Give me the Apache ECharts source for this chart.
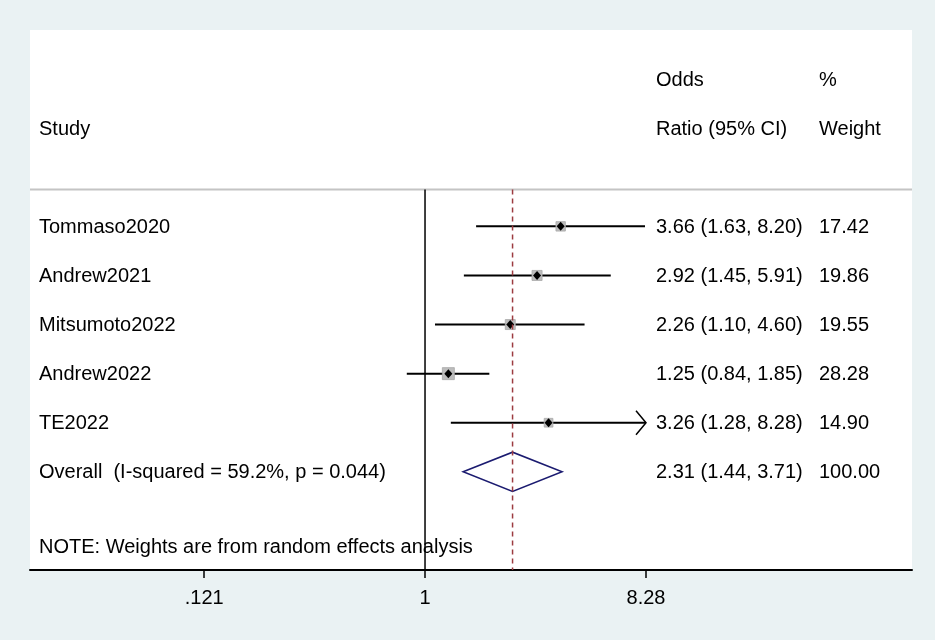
<!DOCTYPE html>
<html>
<head>
<meta charset="utf-8">
<script src="https://cdn.jsdelivr.net/npm/echarts@6/dist/echarts.min.js"></script>
<style>
html,body{margin:0;padding:0;background:#eaf2f3}
#chart{width:935px;height:640px}
</style>
</head>
<body>
<div id="chart"></div>
<script>
// study data (odds ratios, 95% CI, % weight)
var studies = ['Tommaso2020', 'Andrew2021', 'Mitsumoto2022', 'Andrew2022', 'TE2022'];
var orValues = [3.66, 2.92, 2.26, 1.25, 3.26];
var ciLower = [1.63, 1.45, 1.10, 0.84, 1.28];
var ciUpper = [8.20, 5.91, 4.60, 1.85, 8.28];
var weights = [17.42, 19.86, 19.55, 28.28, 14.90];

var overallLabel = 'Overall  (I-squared = 59.2%, p = 0.044)';
var overallOR = 2.31;
var overallLower = 1.44;
var overallUpper = 3.71;
var overallWeight = 100.00;

var noteText = 'NOTE: Weights are from random effects analysis';

var tickValues = [0.121, 1, 8.28];
var tickLabels = ['.121', '1', '8.28'];
var arrowAt = 8.28;   // CI clipped at the last tick -> arrow

// layout
var xMinLog = -1.641, xMaxLog = 2.023;
var yTop = -4, yBottom = 7, sepY = -0.75;
var overallRow = studies.length, noteRow = 6.52;
var colStudy = 39, colRatio = 656, colWeight = 819;
var FONT = '20px "Liberation Sans", Arial, sans-serif';

function fmt(v) { return v.toFixed(2); }
function ciText(o, l, u) { return fmt(o) + ' (' + fmt(l) + ', ' + fmt(u) + ')'; }

// text table rows
var tableRows = [
  { y: -3, cells: [[colRatio, 'Odds'], [colWeight, '%']] },
  { y: -2, cells: [[colStudy, 'Study'], [colRatio, 'Ratio (95% CI)'], [colWeight, 'Weight']] }
];
studies.forEach(function (s, i) {
  tableRows.push({ y: i, cells: [[colStudy, s], [colRatio, ciText(orValues[i], ciLower[i], ciUpper[i])], [colWeight, fmt(weights[i])]] });
});
tableRows.push({ y: overallRow, cells: [[colStudy, overallLabel], [colRatio, ciText(overallOR, overallLower, overallUpper)], [colWeight, fmt(overallWeight)]] });
tableRows.push({ y: noteRow, cells: [[colStudy, noteText]] });

var log10 = Math.log10;
var boxScale = 12 / Math.sqrt(28.28);

var myChart = echarts.init(document.getElementById('chart'));

var option = {
  animation: false,
  backgroundColor: '#eaf2f3',
  grid: { left: 30, right: 23, top: 30, bottom: 70, show: true, backgroundColor: '#fff', borderWidth: 0 },
  xAxis: {
    type: 'value',
    min: xMinLog,
    max: xMaxLog,
    splitLine: { show: false },
    axisLine: { show: true, onZero: false, lineStyle: { color: '#000', width: 2 } },
    axisTick: { show: true, length: 8, customValues: tickValues.map(log10), lineStyle: { color: '#000', width: 1.5 } },
    axisLabel: {
      customValues: tickValues.map(log10),
      margin: 18,
      color: '#000',
      fontSize: 20,
      fontFamily: '"Liberation Sans", Arial, sans-serif',
      formatter: function (v) {
        var best = 0;
        tickValues.forEach(function (t, i) {
          if (Math.abs(log10(t) - v) < Math.abs(log10(tickValues[best]) - v)) best = i;
        });
        return tickLabels[best];
      }
    }
  },
  yAxis: {
    type: 'value',
    inverse: true,
    min: yTop,
    max: yBottom,
    show: false
  },
  series: [
    // header separator
    {
      type: 'line', symbol: 'none', silent: true,
      lineStyle: { color: '#c4c4c4', width: 2 },
      data: [[xMinLog, sepY], [xMaxLog, sepY]]
    },
    // null line at OR = 1
    {
      type: 'line', symbol: 'none', silent: true,
      lineStyle: { color: '#000', width: 1.5 },
      data: [[log10(1), sepY], [log10(1), yBottom]]
    },
    // overall estimate line
    {
      type: 'line', symbol: 'none', silent: true,
      lineStyle: { color: '#9c3b40', width: 1.5, type: [5, 4] },
      data: [[log10(overallOR), sepY], [log10(overallOR), yBottom]]
    },
    // confidence intervals
    {
      type: 'custom',
      renderItem: function (params, api) {
        var lo = api.coord([api.value(0), api.value(2)]);
        var hi = api.coord([api.value(1), api.value(2)]);
        var children = [{
          type: 'line',
          shape: { x1: lo[0], y1: lo[1], x2: hi[0], y2: hi[1] },
          style: { stroke: '#000', lineWidth: 2 }
        }];
        if (ciUpper[params.dataIndex] >= arrowAt) {
          children.push({
            type: 'polyline',
            shape: { points: [[hi[0] - 10, hi[1] - 12], [hi[0], hi[1]], [hi[0] - 10, hi[1] + 12]] },
            style: { stroke: '#000', lineWidth: 1.5, fill: null }
          });
        }
        return { type: 'group', children: children };
      },
      encode: { x: [0, 1], y: 2 },
      data: studies.map(function (s, i) { return [log10(ciLower[i]), log10(Math.min(ciUpper[i], arrowAt)), i]; })
    },
    // weight boxes
    {
      type: 'scatter',
      symbol: 'rect',
      symbolSize: function (v) { return boxScale * Math.sqrt(v[2]); },
      itemStyle: { color: '#bdbdbd', borderColor: '#a8a8a8', borderWidth: 0.8, opacity: 1 },
      data: studies.map(function (s, i) { return [log10(orValues[i]), i, weights[i]]; })
    },
    // point estimates
    {
      type: 'scatter',
      symbol: 'diamond',
      symbolSize: [8, 9],
      itemStyle: { color: '#000', opacity: 1 },
      data: studies.map(function (s, i) { return [log10(orValues[i]), i]; })
    },
    // overall diamond
    {
      type: 'custom',
      renderItem: function (params, api) {
        var y = api.value(3);
        var pL = api.coord([api.value(0), y]);
        var pT = api.coord([api.value(1), y - 0.4]);
        var pR = api.coord([api.value(2), y]);
        var pB = api.coord([api.value(1), y + 0.4]);
        return {
          type: 'polygon',
          shape: { points: [pL, pT, pR, pB] },
          style: { stroke: '#1b1b70', lineWidth: 1.5, fill: 'rgba(255,255,255,0)' }
        };
      },
      encode: { x: [0, 1, 2], y: 3 },
      data: [[log10(overallLower), log10(overallOR), log10(overallUpper), overallRow]]
    },
    // text table
    {
      type: 'custom',
      clip: false,
      renderItem: function (params, api) {
        var r = tableRows[params.dataIndex];
        var y = api.coord([0, r.y])[1] + 1;
        return {
          type: 'group',
          children: r.cells.map(function (c) {
            return { type: 'text', style: { x: c[0], y: y, text: c[1], font: FONT, fill: '#000', verticalAlign: 'middle' } };
          })
        };
      },
      encode: { x: 0, y: 1 },
      data: tableRows.map(function (r) { return [0, r.y]; })
    }
  ]
};

myChart.setOption(option);
window.addEventListener('resize', function () {
  myChart.resize();
});
</script>
</body>
</html>
